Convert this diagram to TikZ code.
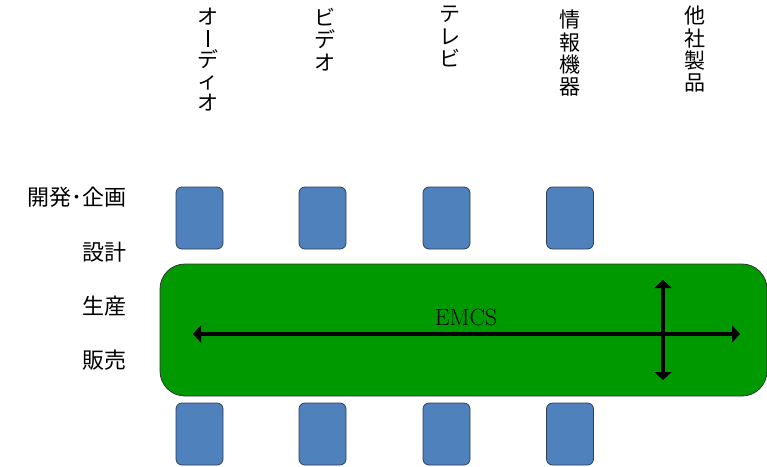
\documentclass[tikz,border=0pt]{standalone}
\usepackage{fontspec}
\newfontfamily\jfont{Noto Sans CJK JP}
\usetikzlibrary{arrows.meta}
\definecolor{boxblue}{HTML}{4F81BD}
\definecolor{boxedge}{HTML}{2F3E55}
\definecolor{emcsgreen}{HTML}{009900}
\newcommand{\vbar}{\rule[-1pt]{1.5pt}{17pt}}
\begin{document}
\begin{tikzpicture}[x=1pt,y=-1pt,
  jlabel/.style={font=\jfont\fontsize{21}{22.3}\selectfont, inner sep=0pt},
  vlabel/.style={jlabel, anchor=north, align=center},
  hlabel/.style={jlabel, font=\jfont\fontsize{22}{24}\selectfont, anchor=east},
  bluebox/.style={draw=boxedge, fill=boxblue, rounded corners=6pt, line width=0.8pt, minimum width=47pt, minimum height=62pt, inner sep=0pt},
  bigarrow/.style={line width=3.2pt, {Triangle[length=8pt,width=17pt]}-{Triangle[length=8pt,width=17pt]}}
]
\useasboundingbox (0,0) rectangle (767,466);
% top column labels
\node[vlabel, font=\jfont\fontsize{21}{21.4}\selectfont] (la) at (208,8) {オ\\\vbar\\デ\\ィ\\オ};
\node[vlabel] (lb) at (325,8) {ビ\\デ\\オ};
\node[vlabel] (lc) at (450,6) {テ\\レ\\ビ};
\node[vlabel] (ld) at (570,10) {情\\報\\機\\器};
\node[vlabel] (le) at (695,6) {他\\社\\製\\品};
% left row labels
\node[hlabel] (r1) at (127,197) {開発･企画};
\node[hlabel] (r2) at (127,252) {設計};
\node[hlabel] (r3) at (127,306) {生産};
\node[hlabel] (r4) at (127,360) {販売};
% green band
\node[draw=black!80, fill=emcsgreen, rounded corners=25pt, line width=0.8pt, minimum width=607pt, minimum height=132pt, inner sep=0pt] (emcs) at (463.5,330) {};
% blue boxes
\node[bluebox] (t1) at (199.5,218) {};
\node[bluebox] (t2) at (322.5,218) {};
\node[bluebox] (t3) at (446.5,218) {};
\node[bluebox] (t4) at (570,218) {};
\node[bluebox] (b1) at (199.5,434) {};
\node[bluebox] (b2) at (322.5,434) {};
\node[bluebox] (b3) at (446.5,434) {};
\node[bluebox] (b4) at (570,434) {};
% arrows
\coordinate (hl) at (193,334);
\coordinate (hr) at (740,334);
\coordinate (vt) at (663,280);
\coordinate (vb) at (663,380);
\draw[bigarrow] (hl) -- (hr);
\draw[bigarrow] (vt) -- (vb);
\node[font=\fontsize{23.5}{26}\selectfont, inner sep=0pt, anchor=base] (lbl) at (466,325) {EMCS};
\end{tikzpicture}
\end{document}
